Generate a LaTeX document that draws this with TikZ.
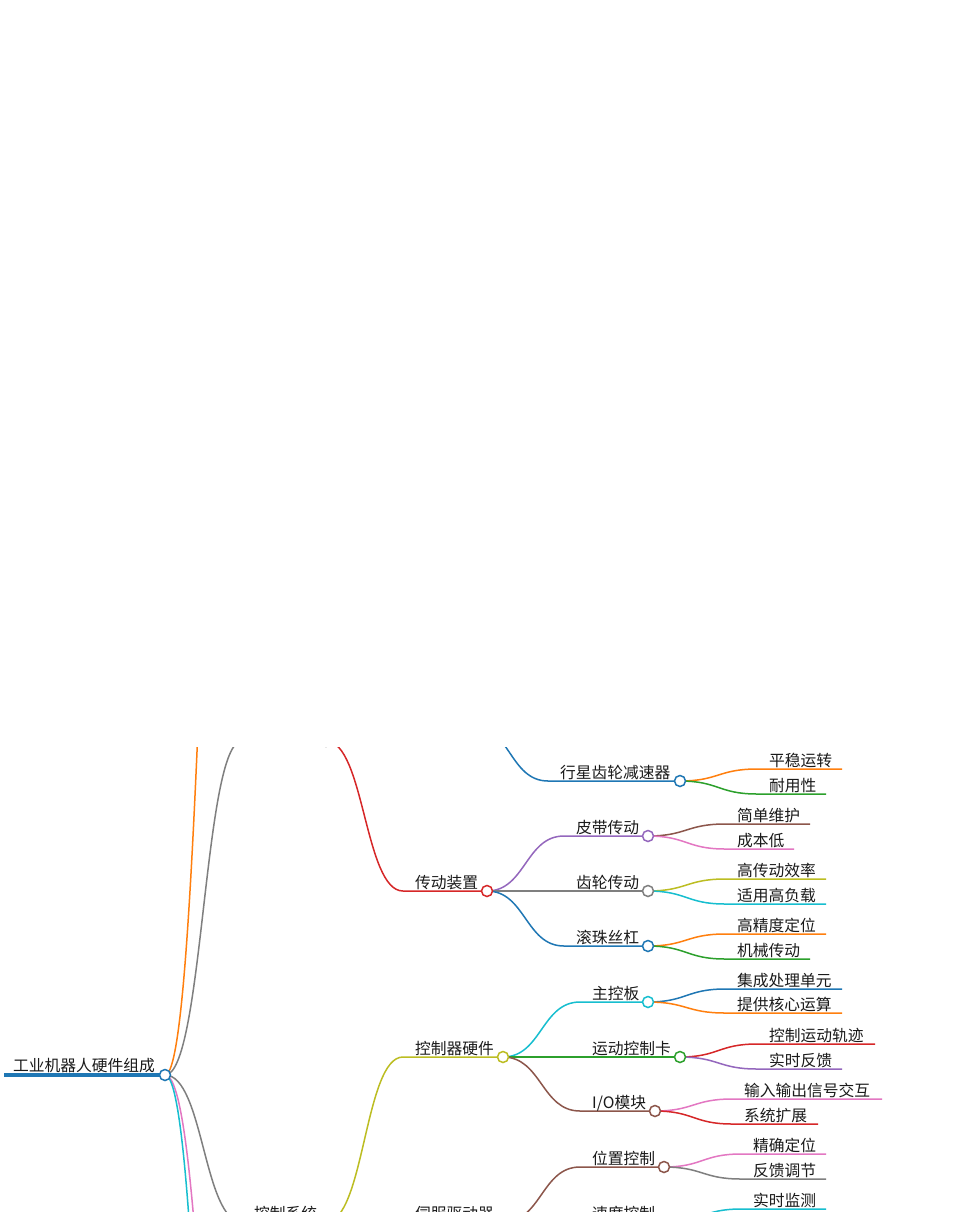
\documentclass[tikz,border=0pt]{standalone}
\usepackage{fontspec}
\newfontfamily\cjk{Noto Sans CJK SC}
\usetikzlibrary{calc}

\definecolor{cBlue}{HTML}{1F77B4}
\definecolor{cOrange}{HTML}{FF7F0E}
\definecolor{cGreen}{HTML}{2CA02C}
\definecolor{cRed}{HTML}{D62728}
\definecolor{cPurple}{HTML}{9467BD}
\definecolor{cBrown}{HTML}{8C564B}
\definecolor{cPink}{HTML}{E377C2}
\definecolor{cGray}{HTML}{7F7F7F}
\definecolor{cOlive}{HTML}{BCBD22}
\definecolor{cCyan}{HTML}{17BECF}
\definecolor{txt}{HTML}{1A1A1A}

\tikzset{
  dot/.style={circle, draw=#1, fill=white, line width=1.5pt, minimum size=11pt, inner sep=0pt},
  lbl/.style={anchor=base west, inner sep=0pt, text=txt, font=\cjk\fontsize{15.75}{18}\selectfont},
  lnk/.style={draw=#1, line width=1.5pt},
}

\begin{document}
\begin{tikzpicture}[x=1pt,y=-1pt]
    \useasboundingbox (0,0) rectangle (967,1216);
    \fill[white] (0,0) rectangle (967,1216);
    \clip (0,747) rectangle (967,1211);

    \coordinate (root-s) at (4,1075);
    \coordinate (root) at (165,1075);
    \draw[lnk=cBlue, line width=4pt] (root-s) -- (root);
    \node[lbl] (root-t) at (13,1071) {工业机器人硬件组成};

    \coordinate (far1) at (242,115);
    \coordinate (far2) at (242,1620);
    \coordinate (far3) at (242,1900);
    \draw[lnk=cOrange] (root) .. controls +(38.5,0) and +(-38.5,0) .. (far1);
    \draw[lnk=cPink] (root) .. controls +(38.5,0) and +(-38.5,0) .. (far2);
    \draw[lnk=cCyan] (root) .. controls +(38.5,0) and +(-38.5,0) .. (far3);

    \coordinate (jx-s) at (242,741);
    \coordinate (jx) at (326,741);
    \draw[lnk=cGray] (root) .. controls +(38.5,0) and +(-38.5,0) .. (jx-s) -- (jx);
    \coordinate (jsq) at (471,724);

    \foreach \n/\p/\sx/\y/\cx/\col/\t in {
        kzxt/root/242/1222/326/cGray/控制系统,
        cdzz/jx/403/891/487/cRed/传动装置,
        kzqyj/kzxt/403/1057/503/cOlive/控制器硬件,
        sfqdq/kzxt/403/1222/503/cBlue/伺服驱动器,
        xxcl/jsq/548/781/680/cBlue/行星齿轮减速器,
        pdcd/cdzz/564/836/648/cPurple/皮带传动,
        clcd/cdzz/564/891/648/cGray/齿轮传动,
        gzsg/cdzz/564/946/648/cBlue/滚珠丝杠,
        zkb/kzqyj/580/1002/648/cCyan/主控板,
        ydkzk/kzqyj/580/1057/680/cGreen/运动控制卡,
        io/kzqyj/580/1111/655/cBrown/{I/O模块},
        wzkz/sfqdq/580/1167/664/cBrown/位置控制,
        sdkz/sfqdq/580/1222/664/cOrange/速度控制}
    {
        \coordinate (\n-s) at (\sx,\y);
        \coordinate (\n) at (\cx,\y);
        \draw[lnk=\col] (\p) .. controls +(38.5,0) and +(-38.5,0) .. (\n-s) -- (\n);
        \node[lbl] (\n-t) at (\sx+12,\y-3) {\t};
    }

    \foreach \p/\px/\y/\ex/\col/\t [count=\i] in {
        xxcl/680/769/842/cOrange/平稳运转,
        xxcl/680/794/826/cGreen/耐用性,
        pdcd/648/824/810/cBrown/简单维护,
        pdcd/648/849/794/cPink/成本低,
        clcd/648/879/826/cOlive/高传动效率,
        clcd/648/904/826/cCyan/适用高负载,
        gzsg/648/934/826/cOrange/高精度定位,
        gzsg/648/959/810/cGreen/机械传动,
        zkb/648/989/842/cBlue/集成处理单元,
        zkb/648/1013/842/cOrange/提供核心运算,
        ydkzk/680/1044/875/cRed/控制运动轨迹,
        ydkzk/680/1069/842/cPurple/实时反馈,
        io/655/1099/882/cPink/输入输出信号交互,
        io/655/1124/818/cRed/系统扩展,
        wzkz/664/1154/826/cPink/精确定位,
        wzkz/664/1179/826/cGray/反馈调节,
        sdkz/664/1209/826/cCyan/实时监测}
    {
        \coordinate (lf\i-s) at (\px+77,\y);
        \coordinate (lf\i-e) at (\ex,\y);
        \draw[lnk=\col] (\p) .. controls +(38.5,0) and +(-38.5,0) .. (lf\i-s) -- (lf\i-e);
        \node[lbl] (lf\i) at (\px+89,\y-3) {\t};
    }

    \foreach \n/\col in {root/cBlue, jx/cGray, kzxt/cGray, cdzz/cRed, kzqyj/cOlive,
        sfqdq/cBlue, xxcl/cBlue, pdcd/cPurple, clcd/cGray, gzsg/cBlue, zkb/cCyan,
        ydkzk/cGreen, io/cBrown, wzkz/cBrown, sdkz/cOrange}
        \node[dot=\col] (\n-o) at (\n) {};
\end{tikzpicture}
\end{document}
